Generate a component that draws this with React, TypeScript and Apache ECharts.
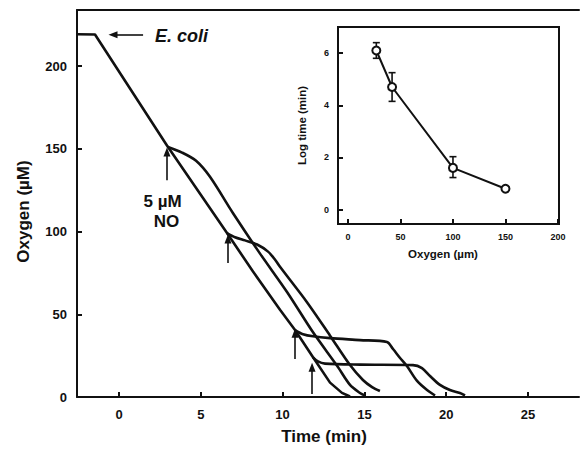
import React, { useEffect, useRef } from "react";
import * as echarts from "echarts";

// ---- Main panel: oxygen (µM) vs time (min) ----
const mainTimeMin = -2.57;
const mainTimeMax = 28.12;
const mainO2Min = 0;
const mainO2Max = 234;
const mainTimeTicks = [0, 5, 10, 15, 20, 25];
const mainO2Ticks = [0, 50, 100, 150, 200];

// control trace (E. coli respiration, no NO)
const controlTime = [-2.57, -1.47, 2.93, 6.6, 8.19, 9.84, 10.76, 11.86, 12.9, 13.63, 14.12];
const controlO2 = [219.3, 219.2, 152.1, 99.1, 75.9, 52.7, 40.5, 24.0, 8.7, 2.5, 0.3];

// NO added at ~150 µM O2
const no150Time = [2.99, 3.85, 4.71, 5.56, 6.97, 8.62, 10.27, 11.86, 13.33, 14.12, 14.73, 15.04];
const no150O2 = [151.2, 147.8, 142.8, 133.1, 111.1, 86.7, 63.5, 39.1, 18.9, 7.3, 2.4, 0.9];

// NO added at ~100 µM O2
const no100Time = [6.6, 7.09, 7.7, 8.44, 9.11, 9.54, 9.84, 11.49, 12.9, 14.12, 14.91, 15.47, 15.95];
const no100O2 = [99.1, 96.6, 94.7, 92.2, 87.9, 83.0, 78.7, 57.3, 37.1, 19.3, 10.3, 6.0, 3.6];

// NO added at ~40 µM O2
const no40Time = [10.76, 11.25, 11.86, 12.9, 14.73, 16.38, 16.75, 17.18, 17.6, 18.22, 18.83, 19.32];
const no40O2 = [40.5, 38.0, 36.7, 35.6, 34.4, 33.2, 29.0, 23.6, 18.7, 9.7, 4.2, 0.9];

// NO added at ~25 µM O2
const no25Time = [11.86, 12.16, 12.59, 14.73, 17.97, 18.52, 19.01, 19.62, 20.23, 20.84, 21.15];
const no25O2 = [24.0, 21.5, 20.2, 19.6, 19.3, 17.5, 12.7, 7.3, 4.2, 2.4, 0.9];

// annotation arrows (time, O2) tail -> head
const ecoliArrow = [[1.47, 219.1], [-0.37, 219.1]];
const noArrows = [
  [[2.93, 131], [2.93, 148.2]],
  [[6.66, 81], [6.66, 95.5]],
  [[10.76, 23], [10.76, 38.5]],
  [[11.8, 1.8], [11.8, 18]],
];

// ---- Inset: log time vs oxygen ----
const insetXMin = -9.5;
const insetXMax = 201;
const insetYMin = -0.55;
const insetYMax = 7;
const insetXTicks = [0, 50, 100, 150, 200];
const insetYTicks = [0, 2, 4, 6];
const insetOxygen = [27, 42, 100, 150];
const insetLogTime = [6.1, 4.7, 1.6, 0.8];
const insetErrLow = [5.8, 4.15, 1.23, null];
const insetErrHigh = [6.4, 5.25, 2.03, null];

const font = "'Liberation Sans', Arial, Helvetica, sans-serif";
const ink = "#111";

const pair = (xs: number[], ys: number[]) => xs.map((x, i) => [x, ys[i]]);

function traceSeries(name: string, xs: number[], ys: number[], smooth: number | boolean, extra: any = {}) {
  return {
    name,
    type: "line",
    xAxisIndex: 0,
    yAxisIndex: 0,
    data: pair(xs, ys),
    smooth,
    showSymbol: false,
    symbol: "none",
    lineStyle: { color: ink, width: 2.6 },
    z: 3,
    ...extra,
  };
}

export default function App() {
  const ref = useRef<HTMLDivElement>(null);
  useEffect(() => {
    if (!ref.current) return;
    const chart = echarts.init(ref.current, undefined, { renderer: "svg" });
    const tickLabel = { fontFamily: font, fontWeight: "bold", color: ink };
    const tick = (values: number[], len: number) => ({
      show: true,
      inside: true,
      length: len,
      customValues: values,
      lineStyle: { color: ink, width: 2 },
    });
    const errData = insetOxygen
      .map((x, i) => [x, insetErrLow[i], insetErrHigh[i]])
      .filter((d) => d[1] != null && d[2] != null);

    const arrowLines = [
      [{ coord: ecoliArrow[0] }, { coord: ecoliArrow[1] }],
      ...noArrows.map((a) => [{ coord: a[0] }, { coord: a[1] }]),
    ];

    const option: any = {
      animation: false,
      backgroundColor: "#fff",
      grid: [
        { left: 77, right: 2, top: 10, bottom: 54 },
        { left: 338, top: 27, width: 221, height: 197, show: true, borderColor: ink, borderWidth: 2, backgroundColor: "transparent" },
      ],
      xAxis: [
        {
          gridIndex: 0,
          type: "value",
          min: mainTimeMin,
          max: mainTimeMax,
          name: "Time (min)",
          nameLocation: "middle",
          nameGap: 31,
          nameTextStyle: { fontFamily: font, fontWeight: "bold", fontSize: 17, color: ink, padding: [0, 8, 0, 0] },
          axisLine: { show: true, onZero: false, lineStyle: { color: ink, width: 2 } },
          axisTick: tick(mainTimeTicks, 5),
          axisLabel: { customValues: mainTimeTicks, margin: 11, fontSize: 13, ...tickLabel },
          splitLine: { show: false },
        },
        {
          gridIndex: 0,
          type: "value",
          position: "top",
          min: mainTimeMin,
          max: mainTimeMax,
          axisLine: { show: true, onZero: false, lineStyle: { color: ink, width: 2 } },
          axisTick: { show: false },
          axisLabel: { show: false },
          splitLine: { show: false },
        },
        {
          gridIndex: 1,
          type: "value",
          min: insetXMin,
          max: insetXMax,
          name: "Oxygen (µm)",
          nameLocation: "middle",
          nameGap: 24,
          nameTextStyle: { fontFamily: font, fontWeight: "bold", fontSize: 11.5, color: ink, padding: [0, 11, 0, 0] },
          axisLine: { show: true, onZero: false, lineStyle: { color: ink, width: 2 } },
          axisTick: tick(insetXTicks, 5),
          axisLabel: { customValues: insetXTicks, margin: 8, fontSize: 9, ...tickLabel },
          splitLine: { show: false },
        },
      ],
      yAxis: [
        {
          gridIndex: 0,
          type: "value",
          min: mainO2Min,
          max: mainO2Max,
          name: "Oxygen (µM)",
          nameLocation: "middle",
          nameGap: 45,
          nameRotate: 90,
          nameTextStyle: { fontFamily: font, fontWeight: "bold", fontSize: 17, color: ink, padding: [0, 16, 0, 0] },
          axisLine: { show: true, onZero: false, lineStyle: { color: ink, width: 2 } },
          axisTick: tick(mainO2Ticks, 5),
          axisLabel: { customValues: mainO2Ticks, margin: 10, fontSize: 13, ...tickLabel },
          splitLine: { show: false },
        },
        {
          gridIndex: 1,
          type: "value",
          min: insetYMin,
          max: insetYMax,
          name: "Log time (min)",
          nameLocation: "middle",
          nameGap: 30,
          nameRotate: 90,
          nameTextStyle: { fontFamily: font, fontWeight: "bold", fontSize: 11.5, color: ink },
          axisLine: { show: true, onZero: false, lineStyle: { color: ink, width: 2 } },
          axisTick: tick(insetYTicks, 5),
          axisLabel: { customValues: insetYTicks, margin: 9, fontSize: 9, ...tickLabel },
          splitLine: { show: false },
        },
      ],
      series: [
        traceSeries("control", controlTime, controlO2, false, {
          markLine: {
            silent: true,
            symbol: ["none", "triangle"],
            symbolSize: [7, 9],
            label: { show: false },
            lineStyle: { color: ink, width: 1.6, type: "solid" },
            data: arrowLines,
          },
          markPoint: {
            silent: true,
            symbol: "circle",
            symbolSize: 0,
            itemStyle: { color: "transparent" },
            data: [
              {
                coord: [2.2, 218.5],
                label: { show: true, formatter: "E. coli", position: "inside", align: "left", verticalAlign: "middle", fontFamily: font, fontWeight: "bold", fontStyle: "italic", fontSize: 18, color: ink },
              },
              {
                coord: [2.66, 118],
                label: { show: true, formatter: "5 µM", position: "inside", align: "center", verticalAlign: "middle", fontFamily: font, fontWeight: "bold", fontSize: 17, color: ink },
              },
              {
                coord: [2.9, 106.2],
                label: { show: true, formatter: "NO", position: "inside", align: "center", verticalAlign: "middle", fontFamily: font, fontWeight: "bold", fontSize: 17, color: ink },
              },
            ],
          },
        }),
        traceSeries("NO at 150 µM", no150Time, no150O2, 0.3),
        traceSeries("NO at 100 µM", no100Time, no100O2, 0.3),
        traceSeries("NO at 40 µM", no40Time, no40O2, 0.3),
        traceSeries("NO at 25 µM", no25Time, no25O2, 0.3),
        {
          name: "error",
          type: "custom",
          xAxisIndex: 2,
          yAxisIndex: 1,
          data: errData,
          z: 2,
          renderItem: (params: any, api: any) => {
            const x = api.value(0);
            const lo = api.value(1);
            const hi = api.value(2);
            const top = api.coord([x, hi]);
            const bot = api.coord([x, lo]);
            const w = 3.5;
            const style = { stroke: ink, lineWidth: 1.6 };
            return {
              type: "group",
              children: [
                { type: "line", shape: { x1: top[0], y1: top[1], x2: bot[0], y2: bot[1] }, style },
                { type: "line", shape: { x1: top[0] - w, y1: top[1], x2: top[0] + w, y2: top[1] }, style },
                { type: "line", shape: { x1: bot[0] - w, y1: bot[1], x2: bot[0] + w, y2: bot[1] }, style },
              ],
            };
          },
        },
        {
          name: "log time",
          type: "line",
          xAxisIndex: 2,
          yAxisIndex: 1,
          data: pair(insetOxygen, insetLogTime),
          symbol: "circle",
          symbolSize: 8,
          showSymbol: true,
          itemStyle: { color: "#fff", borderColor: ink, borderWidth: 2 },
          lineStyle: { color: ink, width: 2 },
          z: 4,
        },
      ],
    };
    chart.setOption(option);
    return () => chart.dispose();
  }, []);
  return <div ref={ref} style={{ position: "fixed", left: 0, top: 0, width: 581, height: 451 }} />;
}
